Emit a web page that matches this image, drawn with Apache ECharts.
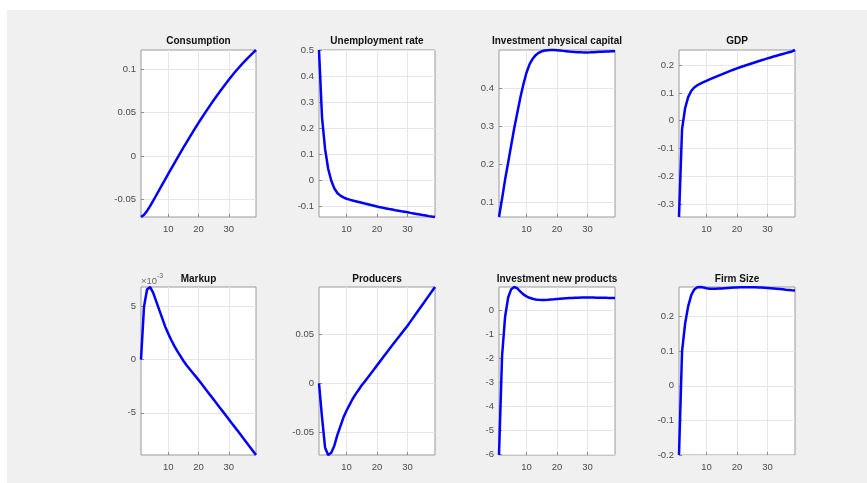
<!DOCTYPE html>
<html>
<head>
<meta charset="utf-8">
<script src="https://cdn.jsdelivr.net/npm/echarts@6/dist/echarts.min.js"></script>
<style>
html,body{margin:0;padding:0;background:#fff;}
#bg{position:absolute;left:7px;top:10px;width:860px;height:473px;background:#f0f0f0;}
#chart{position:absolute;left:0;top:0;width:867px;height:483px;}
</style>
</head>
<body>
<div id="bg"></div>
<div id="chart"></div>
<script>
// ---- data ----
const periods = [1,2,3,4,5,6,7,8,9,10,11,12,13,14,15,16,17,18,19,20,21,22,23,24,25,26,27,28,29,30,31,32,33,34,35,36,37,38,39];
const xTicks = [10, 20, 30];

const titles = ['Consumption','Unemployment rate','Investment physical capital','GDP','Markup','Producers','Investment new products','Firm Size'];

const consumption = [-0.0700,-0.0675,-0.0630,-0.0575,-0.0515,-0.0453,-0.0391,-0.0329,-0.0267,-0.0205,-0.0144,-0.0083,-0.0023,0.0037,0.0096,0.0155,0.0213,0.0270,0.0326,0.0381,0.0435,0.0488,0.0540,0.0591,0.0641,0.0690,0.0738,0.0785,0.0831,0.0876,0.0920,0.0963,0.1004,0.1043,0.1081,0.1117,0.1152,0.1186,0.1219];
const unemployment = [0.500,0.240,0.120,0.045,0.000,-0.030,-0.048,-0.058,-0.065,-0.070,-0.0735,-0.0765,-0.0795,-0.0825,-0.0855,-0.0885,-0.0912,-0.0940,-0.0970,-0.1000,-0.1024,-0.1048,-0.1071,-0.1094,-0.1116,-0.1138,-0.1159,-0.1180,-0.1200,-0.1220,-0.1242,-0.1263,-0.1284,-0.1305,-0.1326,-0.1346,-0.1366,-0.1384,-0.1400];
const investPhysical = [0.062,0.110,0.160,0.205,0.250,0.295,0.335,0.375,0.410,0.440,0.462,0.476,0.486,0.492,0.496,0.498,0.4990,0.4995,0.4993,0.4988,0.4980,0.4972,0.4964,0.4956,0.4949,0.4943,0.4938,0.4934,0.4932,0.4932,0.4934,0.4938,0.4942,0.4946,0.4950,0.4954,0.4958,0.4961,0.4963];
const gdp = [-0.347,-0.030,0.045,0.085,0.107,0.120,0.128,0.134,0.139,0.144,0.1488,0.1535,0.1582,0.1628,0.1673,0.1718,0.1762,0.1805,0.1848,0.1890,0.1928,0.1965,0.2002,0.2038,0.2074,0.2110,0.2145,0.2180,0.2214,0.2248,0.2281,0.2313,0.2345,0.2376,0.2407,0.2438,0.2468,0.2498,0.2550];
const markup = [0,0.0050,0.0066,0.00683,0.0063,0.0055,0.0047,0.0039,0.0031,0.00245,0.00185,0.0013,0.0008,0.00035,-0.0001,-0.0005,-0.00085,-0.0012,-0.00155,-0.0019,-0.00227,-0.00264,-0.00301,-0.00338,-0.00375,-0.00412,-0.00449,-0.00486,-0.00523,-0.0056,-0.00597,-0.00634,-0.00671,-0.00708,-0.00746,-0.00783,-0.0082,-0.00858,-0.00896];
const producers = [0,-0.035,-0.066,-0.0733,-0.071,-0.064,-0.053,-0.044,-0.035,-0.028,-0.022,-0.016,-0.011,-0.0065,-0.002,0.002,0.006,0.0102,0.0143,0.0184,0.0225,0.0266,0.0307,0.0348,0.0389,0.0430,0.0470,0.0510,0.0550,0.0590,0.0634,0.0678,0.0722,0.0766,0.0810,0.0854,0.0898,0.0942,0.0986];
const investNew = [-6.02,-1.90,-0.25,0.55,0.90,0.99,0.93,0.80,0.68,0.60,0.54,0.50,0.47,0.455,0.45,0.45,0.455,0.465,0.475,0.49,0.50,0.51,0.52,0.53,0.535,0.54,0.545,0.548,0.55,0.55,0.55,0.548,0.545,0.542,0.54,0.537,0.534,0.531,0.528];
const firmSize = [-0.200,0.100,0.180,0.230,0.262,0.279,0.2855,0.2860,0.2845,0.2825,0.2812,0.2808,0.2810,0.2815,0.2820,0.2826,0.2832,0.2838,0.2843,0.2848,0.2851,0.2853,0.2854,0.2855,0.2854,0.2852,0.2849,0.2845,0.2840,0.2834,0.2827,0.2819,0.2810,0.2801,0.2792,0.2783,0.2775,0.2767,0.2760];

const yTicks = [
  [-0.05, 0, 0.05, 0.1],
  [-0.1, 0, 0.1, 0.2, 0.3, 0.4, 0.5],
  [0.1, 0.2, 0.3, 0.4],
  [-0.3, -0.2, -0.1, 0, 0.1, 0.2],
  [-0.005, 0, 0.005],
  [-0.05, 0, 0.05],
  [-6, -5, -4, -3, -2, -1, 0],
  [-0.2, -0.1, 0, 0.1, 0.2]
];
const seriesData = [consumption, unemployment, investPhysical, gdp, markup, producers, investNew, firmSize];

// ---- layout ----
const colLeft = [141, 319, 499, 679];
const colWidth = [115, 116, 116, 116];
const rowTop = [50, 287];
const rowHeight = [167, 168];
const titleY = [41, 279];

const grids = [], xAxes = [], yAxes = [], series = [], graphics = [];
const labelColor = '#4a4a4a';
const fontFam = '"Liberation Sans", Arial, Helvetica, sans-serif';

for (let i = 0; i < 8; i++) {
  const r = Math.floor(i / 4), c = i % 4;
  const data = seriesData[i];
  let mn = Math.min.apply(null, data), mx = Math.max.apply(null, data);
  grids.push({
    left: colLeft[c], top: rowTop[r], width: colWidth[c], height: rowHeight[r],
    show: true, backgroundColor: '#ffffff', borderColor: '#9a9a9a', borderWidth: 1
  });
  xAxes.push({
    type: 'value', gridIndex: i, min: 1, max: 39, position: 'bottom',
    axisLine: { show: false, onZero: false },
    axisTick: { show: true, inside: true, length: 3, lineStyle: { color: '#8a8a8a' }, customValues: xTicks },
    axisLabel: { color: labelColor, fontSize: 9.5, fontFamily: fontFam, margin: 7, customValues: xTicks,
                 formatter: v => String(v) },
    splitLine: { show: true, lineStyle: { color: '#e6e6e6', width: 1 } }
  });
  const isMarkup = (i === 4);
  yAxes.push({
    type: 'value', gridIndex: i, min: mn, max: mx, position: 'left',
    axisLine: { show: false, onZero: false },
    axisTick: { show: true, inside: true, length: 3, lineStyle: { color: '#8a8a8a' }, customValues: yTicks[i] },
    axisLabel: { color: labelColor, fontSize: 9.5, fontFamily: fontFam, margin: 5, customValues: yTicks[i],
                 formatter: v => isMarkup ? String(Math.round(v * 1000)) : String(+(+v).toFixed(6)) },
    splitLine: { show: true, lineStyle: { color: '#e6e6e6', width: 1 } }
  });
  series.push({
    type: 'line', xAxisIndex: i, yAxisIndex: i,
    data: periods.map((t, k) => [t, data[k]]),
    showSymbol: false, clip: false, smooth: false,
    lineStyle: { color: '#0000ff', width: 2.5 },
    animation: false
  });
  graphics.push({
    type: 'text', x: colLeft[c] + colWidth[c] / 2, y: titleY[r],
    style: { text: titles[i], align: 'center', verticalAlign: 'middle', textAlign: 'center', textVerticalAlign: 'middle',
             font: 'bold 10px ' + fontFam, fill: '#111' }
  });
}
// exponent label for Markup
graphics.push({ type: 'text', x: 141, y: 281,
  style: { text: '\u00d710', verticalAlign: 'middle', textVerticalAlign: 'middle', font: '9.5px ' + fontFam, fill: '#6a6a6a' } });
graphics.push({ type: 'text', x: 157, y: 276,
  style: { text: '-3', verticalAlign: 'middle', textVerticalAlign: 'middle', font: '7px ' + fontFam, fill: '#6a6a6a' } });

const chart = echarts.init(document.getElementById('chart'), null, { renderer: 'canvas' });
chart.setOption({
  animation: false,
  grid: grids, xAxis: xAxes, yAxis: yAxes, series: series, graphic: graphics
});
</script>
</body>
</html>
